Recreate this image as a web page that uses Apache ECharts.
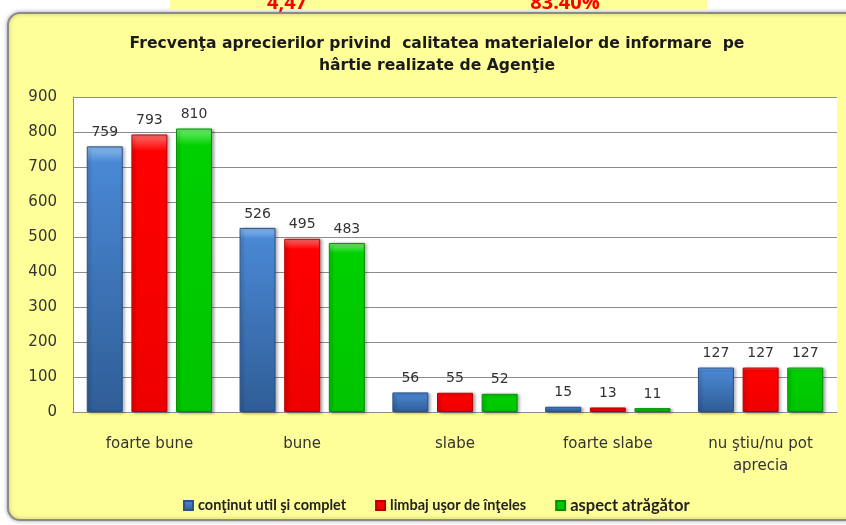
<!DOCTYPE html>
<html>
<head>
<meta charset="utf-8">
<script src="https://cdn.jsdelivr.net/npm/echarts@6/dist/echarts.min.js"></script>
<style>
  html, body { margin: 0; padding: 0; background: #fff; }
  #chart { width: 846px; height: 525px; }
</style>
</head>
<body>
<div id="chart"></div>
<script>
// categorii si valori
var categories = ['foarte bune', 'bune', 'slabe', 'foarte slabe', 'nu ştiu/nu pot\naprecia']
var seriesNames = ['conţinut util şi complet', 'limbaj uşor de înţeles', 'aspect atrăgător']
var continut = [759, 526, 56, 15, 127]
var limbaj = [793, 495, 55, 13, 127]
var aspect = [810, 483, 52, 11, 127]
var yTicks = [0, 900, 100]

function grad(top, mid, bottom) {
  return new echarts.graphic.LinearGradient(0, 0, 0, 1, [
    { offset: 0, color: top },
    { offset: 0.06, color: mid },
    { offset: 1, color: bottom }
  ])
}

var labelStyle = {
  show: true,
  position: 'top',
  distance: 7,
  fontFamily: 'DejaVu Sans',
  fontSize: 14,
  color: '#333'
}

function bar(name, data, color, border) {
  return {
    name: name,
    type: 'bar',
    data: data,
    barWidth: 36,
    barGap: '24%',
    itemStyle: {
      color: color,
      borderColor: border,
      borderWidth: 1,
      shadowColor: 'rgba(0,0,0,0.35)',
      shadowBlur: 3,
      shadowOffsetX: 2,
      shadowOffsetY: 1
    },
    label: labelStyle
  }
}

var chart = echarts.init(document.getElementById('chart'))
chart.setOption({
  backgroundColor: '#fff',
  animation: false,
  graphic: [
    { type: 'rect', z: -10, shape: { x: 8, y: 13, width: 850, height: 507, r: 12 },
      style: { fill: '#ffff99', stroke: '#8a8a8a', lineWidth: 2, shadowColor: 'rgba(0,0,0,0.3)', shadowBlur: 4 } },
    { type: 'rect', z: -10, shape: { x: 170, y: 0, width: 537, height: 10 }, style: { fill: '#ffff99' } },
    { type: 'text', z: -5, x: 287, y: 13, style: { text: '4,47', fill: '#ff0000', font: 'bold 20px "Open Sans"', textAlign: 'center', textVerticalAlign: 'bottom' } },
    { type: 'text', z: -5, x: 565, y: 13, style: { text: '83.40%', fill: '#ff0000', font: 'bold 20px "Open Sans"', textAlign: 'center', textVerticalAlign: 'bottom' } }
  ],
  title: {
    text: 'Frecvenţa aprecierilor privind  calitatea materialelor de informare  pe\nhârtie realizate de Agenţie',
    left: 432,
    textAlign: 'center',
    top: 28,
    textStyle: {
      fontFamily: 'DejaVu Sans',
      fontSize: 15.6,
      fontWeight: 'bold',
      color: '#1a1a1a',
      lineHeight: 22
    }
  },
  legend: {
    bottom: 6,
    left: 178,
    icon: 'rect',
    itemWidth: 9,
    itemHeight: 9,
    itemGap: 29,
    data: [
      { name: seriesNames[0] },
      { name: seriesNames[1] },
      { name: seriesNames[2], textStyle: { fontSize: 16.5 } }
    ],
    textStyle: {
      fontFamily: 'Lato',
      fontSize: 14.5,
      fontWeight: 'bold',
      color: '#222'
    }
  },
  grid: {
    left: 73,
    right: 9,
    top: 97,
    bottom: 113,
    show: true,
    backgroundColor: '#fff',
    borderWidth: 0
  },
  xAxis: {
    type: 'category',
    data: categories,
    axisLine: { lineStyle: { color: '#8c8c8c' } },
    axisTick: { show: false },
    axisLabel: {
      margin: 21,
      fontFamily: 'DejaVu Sans',
      fontSize: 15,
      lineHeight: 22,
      color: '#333'
    }
  },
  yAxis: {
    type: 'value',
    min: yTicks[0],
    max: yTicks[1],
    interval: yTicks[2],
    axisLine: { show: true, lineStyle: { color: '#8c8c8c' } },
    axisTick: { show: false },
    splitLine: { lineStyle: { color: '#8c8c8c' } },
    axisLabel: {
      margin: 16,
      fontFamily: 'DejaVu Sans',
      fontSize: 15,
      color: '#333'
    }
  },
  series: [
    bar(seriesNames[0], continut, grad('#8cbcf0', '#4a88d4', '#2f5d96'), '#2a5286'),
    bar(seriesNames[1], limbaj, grad('#ff7070', '#ff0000', '#ee0000'), '#b80000'),
    bar(seriesNames[2], aspect, grad('#70f070', '#00d000', '#00c400'), '#009000')
  ]
})
</script>
</body>
</html>
